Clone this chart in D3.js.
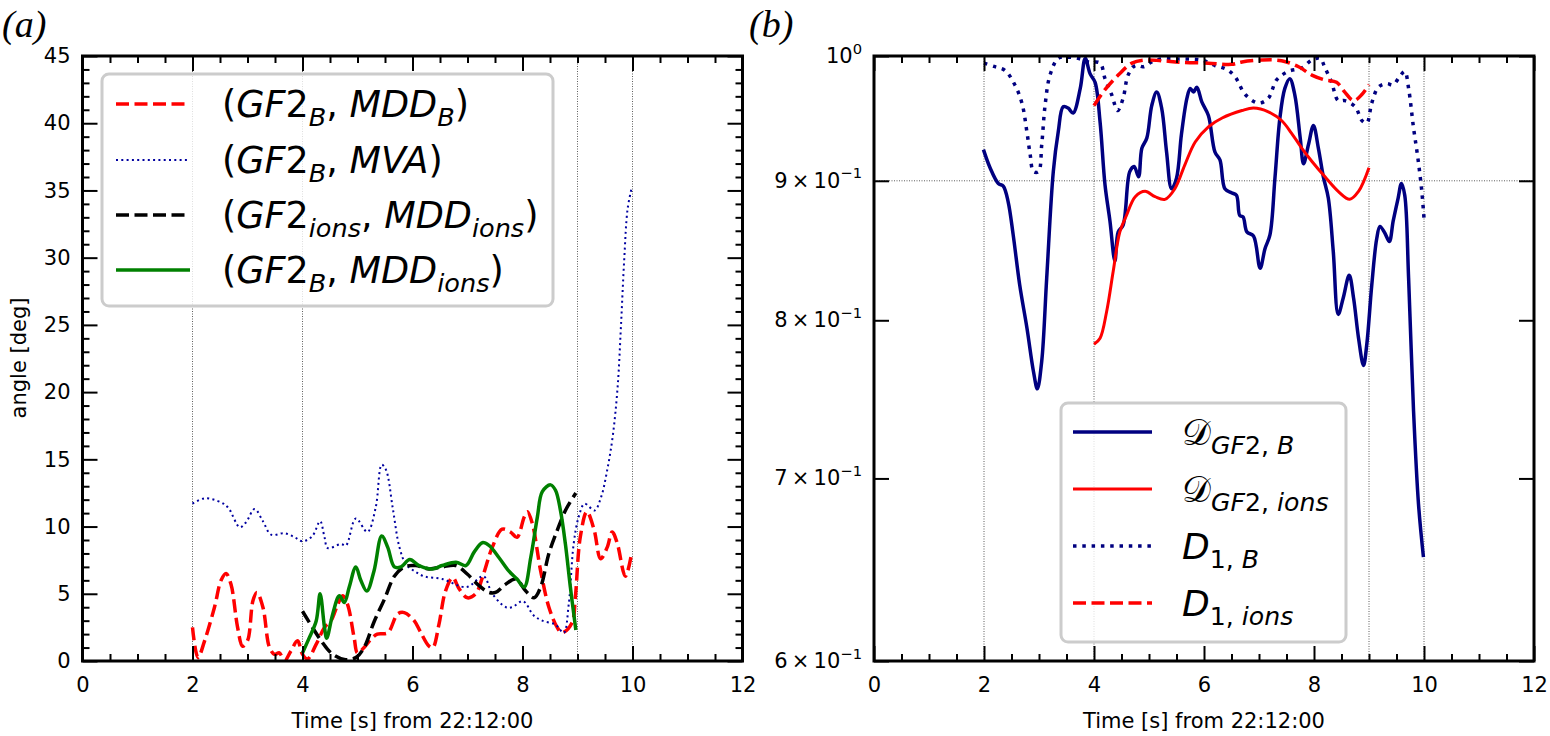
<!DOCTYPE html>
<html>
<head>
<meta charset="utf-8">
<script src="https://cdn.jsdelivr.net/npm/d3@7"></script>
<style>
  body { margin: 0; background: #fff; }
  svg { display: block; }
</style>
</head>
<body>
<div id="chart"></div>
<script>
// ---- data ----
const xTicks = [0, 2, 4, 6, 8, 10, 12];
const angleTicks = [0, 5, 10, 15, 20, 25, 30, 35, 40, 45];
const ratioTicks = [0.6, 0.7, 0.8, 0.9, 1.0];
const ratioTickLabels = [["6", "\u22121"], ["7", "\u22121"], ["8", "\u22121"], ["9", "\u22121"], [null, "0"]];
const markerTimes = [2, 4, 9, 10];

// panel (a): angle [deg] vs time
const gf2bMddB = [[2.0,2.5],[2.1,0.25],[2.22,1.5],[2.4,4.0],[2.52,6.0],[2.61,6.5],[2.7,5.7],[2.82,2.5],[2.91,1.1],[3.0,1.5],[3.1,4.5],[3.17,5.1],[3.28,4.0],[3.4,1.0],[3.49,0.5],[3.58,0.6],[3.67,0.0],[3.79,0.75],[3.91,1.5],[4.0,0.5],[4.09,0.15],[4.25,1.25],[4.4,2.5],[4.52,3.0],[4.64,4.2],[4.73,4.85],[4.82,4.2],[4.94,1.7],[5.0,0.6],[5.12,1.0],[5.24,1.6],[5.36,2.0],[5.55,2.1],[5.73,3.5],[5.85,3.6],[6.03,3.0],[6.14,2.2],[6.3,1.1],[6.37,1.0],[6.48,2.7],[6.6,5.2],[6.73,6.2],[6.85,5.35],[7.0,4.7],[7.15,5.0],[7.27,6.2],[7.45,8.45],[7.63,9.8],[7.78,9.6],[7.9,9.2],[8.03,10.7],[8.09,11.1],[8.18,10.2],[8.33,6.7],[8.48,4.0],[8.63,2.5],[8.72,2.1],[8.9,2.85],[8.96,4.7],[9.05,9.2],[9.17,11.1],[9.3,9.8],[9.42,7.6],[9.54,8.45],[9.63,9.6],[9.72,8.8],[9.87,6.3],[9.98,7.9]];
const gf2bMva = [[2.0,11.7],[2.22,12.1],[2.52,11.8],[2.65,11.4],[2.86,9.95],[2.97,10.3],[3.13,11.3],[3.28,10.4],[3.43,9.4],[3.67,9.5],[3.86,9.2],[4.0,8.9],[4.18,9.3],[4.32,10.4],[4.4,9.2],[4.46,8.4],[4.7,8.7],[4.79,8.6],[4.97,10.6],[5.18,9.6],[5.33,11.4],[5.44,14.6],[5.52,14.2],[5.64,11.4],[5.76,8.5],[5.88,7.2],[6.03,6.7],[6.21,6.3],[6.54,6.1],[6.98,5.5],[7.29,6.3],[7.45,5.0],[7.7,4.0],[7.81,4.0],[8.01,4.45],[8.2,3.4],[8.36,3.0],[8.6,2.7],[8.75,2.1],[8.84,4.2],[8.93,8.7],[9.02,10.7],[9.13,11.7],[9.31,11.2],[9.43,12.2],[9.54,14.2],[9.64,16.7],[9.73,20.4],[9.79,24.9],[9.85,29.9],[9.91,33.6],[9.98,35.1]];
const gf2ionsMddIons = [[4.0,3.7],[4.18,2.5],[4.34,1.5],[4.52,0.6],[4.76,0.12],[4.97,0.25],[5.12,1.0],[5.3,2.9],[5.49,4.6],[5.67,6.3],[5.85,7.0],[6.06,7.1],[6.3,6.85],[6.54,7.0],[6.79,7.1],[7.0,6.45],[7.21,5.6],[7.39,5.1],[7.51,5.1],[7.69,5.7],[7.88,6.1],[8.06,5.2],[8.21,4.7],[8.33,5.5],[8.48,8.0],[8.63,9.7],[8.78,11.2],[8.97,12.5]];
const gf2bMddIons = [[4.0,0.6],[4.12,1.7],[4.25,3.0],[4.32,5.0],[4.4,2.5],[4.44,1.7],[4.55,3.5],[4.67,4.85],[4.76,4.35],[4.85,5.5],[4.97,7.0],[5.06,6.0],[5.17,5.2],[5.3,6.7],[5.44,9.3],[5.55,8.45],[5.67,7.0],[5.79,7.0],[5.95,7.55],[6.12,7.1],[6.36,6.85],[6.54,7.1],[6.79,7.35],[6.97,7.1],[7.12,8.1],[7.27,8.8],[7.39,8.6],[7.57,7.7],[7.75,6.7],[7.9,6.1],[8.03,5.5],[8.15,7.7],[8.27,10.7],[8.36,12.6],[8.51,13.1],[8.6,12.7],[8.69,11.2],[8.78,8.7],[8.87,5.5],[8.97,2.3]];

// panel (b): dimensionality ratios vs time (log axis)
const dGf2B = [[1.99,0.924],[2.11,0.910],[2.26,0.898],[2.35,0.896],[2.44,0.884],[2.53,0.860],[2.65,0.824],[2.78,0.795],[2.90,0.766],[2.97,0.755],[3.05,0.773],[3.14,0.829],[3.26,0.907],[3.35,0.938],[3.44,0.958],[3.53,0.957],[3.62,0.953],[3.75,0.973],[3.84,0.998],[3.93,0.985],[4.02,0.978],[4.11,0.946],[4.20,0.897],[4.29,0.870],[4.38,0.841],[4.44,0.862],[4.53,0.867],[4.65,0.907],[4.73,0.911],[4.81,0.903],[4.87,0.925],[4.96,0.933],[5.05,0.959],[5.14,0.970],[5.23,0.957],[5.32,0.922],[5.41,0.894],[5.50,0.902],[5.59,0.936],[5.69,0.965],[5.75,0.973],[5.81,0.970],[5.87,0.974],[5.96,0.962],[6.08,0.951],[6.20,0.922],[6.29,0.916],[6.38,0.894],[6.50,0.891],[6.59,0.889],[6.65,0.874],[6.71,0.873],[6.78,0.862],[6.90,0.859],[7.02,0.836],[7.11,0.850],[7.20,0.860],[7.29,0.902],[7.38,0.949],[7.47,0.973],[7.56,0.981],[7.65,0.968],[7.75,0.933],[7.81,0.913],[7.90,0.928],[7.99,0.943],[8.08,0.925],[8.17,0.903],[8.26,0.887],[8.35,0.848],[8.44,0.804],[8.53,0.815],[8.64,0.831],[8.72,0.815],[8.81,0.788],[8.90,0.770],[8.96,0.784],[9.05,0.824],[9.14,0.857],[9.20,0.866],[9.29,0.861],[9.37,0.855],[9.44,0.870],[9.53,0.887],[9.59,0.898],[9.65,0.889],[9.72,0.829],[9.81,0.741],[9.90,0.685],[9.99,0.655]];
const dGf2Ions = [[4.0,0.784],[4.11,0.788],[4.23,0.806],[4.35,0.834],[4.47,0.862],[4.59,0.874],[4.75,0.888],[4.93,0.892],[5.11,0.888],[5.29,0.886],[5.47,0.894],[5.65,0.912],[5.84,0.930],[6.08,0.942],[6.33,0.949],[6.69,0.955],[6.90,0.957],[7.17,0.954],[7.41,0.947],[7.59,0.937],[7.78,0.925],[7.96,0.915],[8.20,0.903],[8.44,0.892],[8.65,0.886],[8.81,0.892],[9.0,0.910]];
const d1B = [[2.0,0.994],[2.20,0.991],[2.38,0.988],[2.56,0.976],[2.69,0.961],[2.78,0.938],[2.84,0.920],[2.90,0.907],[2.99,0.907],[3.05,0.928],[3.11,0.959],[3.20,0.984],[3.35,0.998],[3.53,0.999],[3.71,0.998],[3.90,0.995],[4.11,0.994],[4.20,0.981],[4.32,0.968],[4.43,0.955],[4.53,0.965],[4.62,0.984],[4.75,0.992],[4.90,0.991],[5.05,0.995],[5.23,0.9975],[5.47,0.9975],[5.71,0.9975],[5.96,0.9966],[6.20,0.992],[6.40,0.989],[6.56,0.983],[6.75,0.968],[6.99,0.961],[7.17,0.965],[7.32,0.980],[7.53,0.987],[7.78,0.990],[7.96,0.9966],[8.11,0.998],[8.20,0.990],[8.32,0.978],[8.44,0.963],[8.56,0.963],[8.75,0.958],[8.87,0.947],[8.96,0.945],[9.05,0.961],[9.17,0.974],[9.32,0.977],[9.44,0.976],[9.56,0.983],[9.65,0.987],[9.72,0.973],[9.81,0.941],[9.89,0.917],[9.96,0.892],[10.0,0.872]];
const d1Ions = [[4.0,0.959],[4.20,0.972],[4.44,0.984],[4.69,0.994],[4.93,0.9966],[5.23,0.996],[5.59,0.9947],[6.08,0.994],[6.50,0.993],[6.69,0.995],[7.05,0.9966],[7.41,0.996],[7.72,0.991],[7.96,0.984],[8.20,0.980],[8.41,0.978],[8.56,0.970],[8.72,0.963],[8.87,0.968],[9.0,0.976]];

// legend labels as math pieces: t = text, i = italic, s = subscript
const legendA = [
  [{t:"("},{t:"GF",i:1},{t:"2"},{t:"B",i:1,s:1},{t:", "},{t:"MDD",i:1},{t:"B",i:1,s:1},{t:")"}],
  [{t:"("},{t:"GF",i:1},{t:"2"},{t:"B",i:1,s:1},{t:", "},{t:"MVA",i:1},{t:")"}],
  [{t:"("},{t:"GF",i:1},{t:"2"},{t:"ions",i:1,s:1},{t:", "},{t:"MDD",i:1},{t:"ions",i:1,s:1},{t:")"}],
  [{t:"("},{t:"GF",i:1},{t:"2"},{t:"B",i:1,s:1},{t:", "},{t:"MDD",i:1},{t:"ions",i:1,s:1},{t:")"}],
];
const legendB = [
  [{t:"\uD835\uDC9F",sc:1},{t:"GF",i:1,s:1},{t:"2, ",s:1},{t:"B",i:1,s:1}],
  [{t:"\uD835\uDC9F",sc:1},{t:"GF",i:1,s:1},{t:"2, ",s:1},{t:"ions",i:1,s:1}],
  [{t:"D",i:1},{t:"1, ",s:1},{t:"B",i:1,s:1}],
  [{t:"D",i:1},{t:"1, ",s:1},{t:"ions",i:1,s:1}],
];

// ---- layout ----
const W = 1550, H = 736;
const plotTop = 56, plotBottom = 661;
const xA = d3.scaleLinear().domain([0, 12]).range([82.5, 742.5]);
const yA = d3.scaleLinear().domain([0, 45]).range([plotBottom, plotTop]);
const xB = d3.scaleLinear().domain([0, 12]).range([874, 1534]);
const yB = d3.scaleLog().domain([0.6, 1]).range([plotBottom, plotTop]);

const svg = d3.select("#chart").append("svg")
  .attr("width", W).attr("height", H)
  .attr("font-family", "DejaVu Sans, sans-serif");

const navy = "#000080";

function addMath(textSel, parts, size) {
  let shift = 0;
  parts.forEach((p) => {
    const ts = textSel.append("tspan").text(p.t);
    const want = p.s ? size * 0.24 : 0;
    if (want !== shift) ts.attr("dy", want - shift);
    shift = want;
    if (p.s) ts.attr("font-size", size * 0.7);
    if (p.i) ts.attr("font-style", "italic");
    if (p.sc) ts.attr("font-family", "'DejaVu Serif', 'DejaVu Sans', serif");
  });
}

function drawPanel(x, y, opts) {
  const [x0, x1] = x.range();
  const id = opts.id;

  svg.append("clipPath").attr("id", "clip-" + id)
    .append("rect").attr("x", x0).attr("y", plotTop).attr("width", x1 - x0).attr("height", plotBottom - plotTop);

  // dotted marker lines
  const grid = svg.append("g").attr("stroke", "#333").attr("stroke-width", 0.8)
    .attr("stroke-dasharray", "1,1.5");
  grid.selectAll("line.v").data(markerTimes).join("line")
    .attr("x1", (d) => x(d)).attr("x2", (d) => x(d))
    .attr("y1", plotTop).attr("y2", plotBottom);
  (opts.hLines || []).forEach((v) => {
    grid.append("line").attr("x1", x0).attr("x2", x1).attr("y1", y(v)).attr("y2", y(v));
  });

  // series
  const line = d3.line().x((d) => x(d[0])).y((d) => y(d[1])).curve(d3.curveCatmullRom.alpha(0.5));
  const lines = svg.append("g").attr("clip-path", `url(#clip-${id})`).attr("fill", "none");
  opts.series.forEach((s) => {
    lines.append("path").datum(s.data).attr("d", line)
      .attr("stroke", s.color).attr("stroke-width", s.width)
      .attr("stroke-dasharray", s.dash || null)
      .attr("stroke-linejoin", "round");
  });

  // legend
  const lg = opts.legend;
  svg.append("rect").attr("x", lg.x).attr("y", lg.y).attr("width", lg.w).attr("height", lg.h)
    .attr("rx", 7).attr("fill", "#fff").attr("fill-opacity", 0.8)
    .attr("stroke", "#cccccc").attr("stroke-width", 3);
  opts.series.forEach((s, i) => {
    const ry = lg.rowY[i];
    svg.append("line").attr("x1", lg.lineX[0]).attr("x2", lg.lineX[1]).attr("y1", ry).attr("y2", ry)
      .attr("stroke", s.color).attr("stroke-width", s.width).attr("stroke-dasharray", s.dash || null);
    const t = svg.append("text").attr("x", lg.textX).attr("y", ry + lg.size * 0.36)
      .attr("font-size", lg.size).attr("fill", "#000");
    addMath(t, lg.labels[i], lg.size);
  });

  // axes (ticks pointing inward, on all four sides)
  const g = svg.append("g");
  const minorX = d3.range(0, 12.01, 0.5).filter((v) => v % 2 !== 0);
  const fs = 21;

  g.append("g").attr("transform", `translate(0,${plotBottom})`)
    .call(d3.axisBottom(x).tickValues(xTicks).tickSize(-15).tickPadding(16).tickFormat(d3.format("d")));
  g.append("g").attr("transform", `translate(0,${plotBottom})`)
    .call(d3.axisBottom(x).tickValues(minorX).tickSize(-7).tickFormat(""));
  g.append("g").attr("transform", `translate(0,${plotTop})`)
    .call(d3.axisTop(x).tickValues(xTicks).tickSize(-15).tickFormat(""));
  g.append("g").attr("transform", `translate(0,${plotTop})`)
    .call(d3.axisTop(x).tickValues(minorX).tickSize(-7).tickFormat(""));

  g.append("g").attr("transform", `translate(${x0},0)`)
    .call(d3.axisLeft(y).tickValues(opts.yMajor).tickSize(-15).tickPadding(12).tickFormat(opts.yFormat || (() => "")));
  g.append("g").attr("transform", `translate(${x1},0)`)
    .call(d3.axisRight(y).tickValues(opts.yMajor).tickSize(-15).tickFormat(""));
  if (opts.yMinor) {
    g.append("g").attr("transform", `translate(${x0},0)`)
      .call(d3.axisLeft(y).tickValues(opts.yMinor).tickSize(-7).tickFormat(""));
    g.append("g").attr("transform", `translate(${x1},0)`)
      .call(d3.axisRight(y).tickValues(opts.yMinor).tickSize(-7).tickFormat(""));
  }
  g.selectAll(".domain").remove();
  g.selectAll(".tick line").attr("stroke", "#000").attr("stroke-width", 2);
  g.selectAll("g").attr("font-family", null);
  g.selectAll("text").attr("font-size", fs).attr("fill", "#000");

  if (opts.yLabels) {
    opts.yMajor.forEach((v, i) => {
      const [m, e] = opts.yLabels[i];
      const t = g.append("text").attr("x", x0 - 12).attr("y", y(v) + 7)
        .attr("text-anchor", "end").attr("font-size", fs);
      if (m) t.append("tspan").text(m + "\u2009\u00D7\u200910");
      else t.append("tspan").text("10");
      t.append("tspan").text(e).attr("font-size", fs * 0.7).attr("dy", -fs * 0.45);
    });
  }

  // frame
  svg.append("rect").attr("x", x0).attr("y", plotTop).attr("width", x1 - x0).attr("height", plotBottom - plotTop)
    .attr("fill", "none").attr("stroke", "#000").attr("stroke-width", 3);

  // axis title and panel tag
  svg.append("text").attr("x", (x0 + x1) / 2).attr("y", 728).attr("text-anchor", "middle")
    .attr("font-size", 21).text("Time [s] from 22:12:00");
  svg.append("text").attr("x", opts.tagX).attr("y", 37)
    .attr("font-family", "'Liberation Serif', 'DejaVu Serif', serif").attr("font-style", "italic")
    .attr("font-size", 38).text(opts.tag);
}

drawPanel(xA, yA, {
  id: "a",
  tag: "(a)", tagX: 2,
  yMajor: angleTicks,
  yMinor: d3.range(0, 46, 1).filter((v) => v % 5 !== 0),
  yFormat: d3.format("d"),
  series: [
    { data: gf2bMddB, color: "#ff0000", width: 3.5, dash: "13,5.5" },
    { data: gf2bMva, color: "#0000a0", width: 2, dash: "2,3.3" },
    { data: gf2ionsMddIons, color: "#000", width: 3.5, dash: "13,5.5" },
    { data: gf2bMddIons, color: "#008000", width: 3.5 },
  ],
  legend: { x: 102, y: 74, w: 451, h: 232, rowY: [104, 160, 215, 270], lineX: [116, 190], textX: 222, size: 36.5, labels: legendA },
});

drawPanel(xB, yB, {
  id: "b",
  tag: "(b)", tagX: 749,
  yMajor: ratioTicks,
  yLabels: ratioTickLabels,
  hLines: [0.9],
  series: [
    { data: dGf2B, color: navy, width: 3.5 },
    { data: dGf2Ions, color: "#ff0000", width: 3 },
    { data: d1B, color: navy, width: 3.5, dash: "3.5,5.8" },
    { data: d1Ions, color: "#ff0000", width: 3.5, dash: "13,5.5" },
  ],
  legend: { x: 1061, y: 403, w: 285, h: 239, rowY: [432, 489, 546, 603], lineX: [1073, 1152], textX: 1182, size: 36, labels: legendB },
});

// y axis title of panel (a)
svg.append("text").attr("transform", "translate(26,358) rotate(-90)")
  .attr("text-anchor", "middle").attr("font-size", 21).text("angle [deg]");
</script>
</body>
</html>
